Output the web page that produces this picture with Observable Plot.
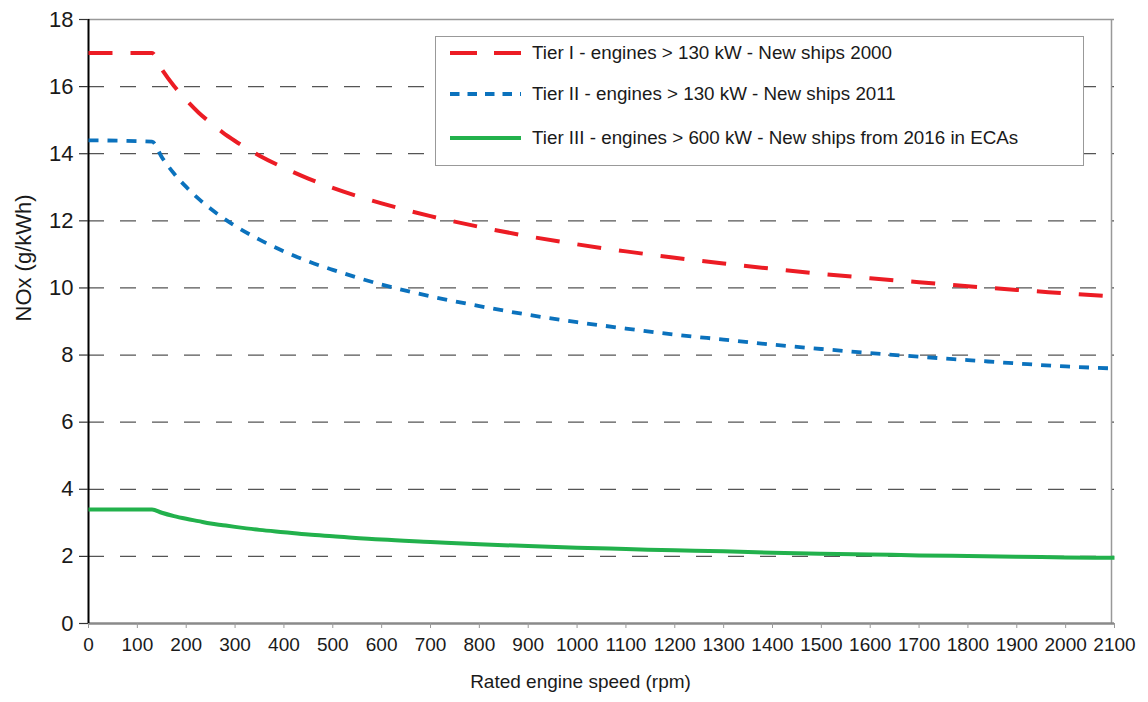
<!DOCTYPE html>
<html><head><meta charset="utf-8">
<script src="https://cdn.jsdelivr.net/npm/d3@7"></script>
<script src="https://cdn.jsdelivr.net/npm/@observablehq/plot@0.6"></script>
<style>
body{margin:0;background:#fff;font-family:"Liberation Sans",Arial,sans-serif;}
#wrap{position:relative;width:1148px;height:702px;}
#legend{position:absolute;left:435px;top:36px;width:649px;height:130px;border:1.5px solid #999;background:#fff;box-sizing:border-box;}
.row{position:absolute;left:14px;height:24px;display:flex;align-items:center;font-size:18.8px;color:#1a1a1a;white-space:nowrap;}
.row svg{margin-right:10px;}
</style></head>
<body><div id="wrap"></div>
<script>
const rpm   = [0,130,150,175,200,225,250,275,300,350,400,450,500,600,700,800,900,1000,1100,1200,1300,1400,1500,1600,1700,1800,1900,2000,2100];
const tier1 = [17.0,17.0,16.52,16.02,15.60,15.23,14.92,14.63,14.38,13.94,13.58,13.26,12.98,12.52,12.14,11.82,11.54,11.30,11.09,10.90,10.73,10.57,10.42,10.29,10.17,10.05,9.94,9.84,9.74];
const tier2 = [14.4,14.36,13.90,13.41,13.01,12.66,12.36,12.09,11.85,11.44,11.09,10.79,10.54,10.10,9.75,9.46,9.20,8.98,8.79,8.61,8.46,8.31,8.18,8.06,7.95,7.85,7.75,7.66,7.60];
const tier3 = [3.4,3.40,3.30,3.20,3.12,3.05,2.98,2.93,2.88,2.79,2.72,2.65,2.60,2.50,2.43,2.36,2.31,2.26,2.22,2.18,2.15,2.11,2.08,2.06,2.03,2.01,1.99,1.97,1.96];
const yTicks = [0,2,4,6,8,10,12,14,16,18];
const gridY = [2,4,6,8,10,12,14,16];
const xTicks = [0,100,200,300,400,500,600,700,800,900,1000,1100,1200,1300,1400,1500,1600,1700,1800,1900,2000,2100];
const seriesNames = ["Tier I - engines > 130 kW - New ships 2000","Tier II - engines > 130 kW - New ships 2011","Tier III - engines > 600 kW - New ships from 2016 in ECAs"];
const colors = ["#ec1c24","#0b72bd","#22b14c"];
const dashes = ["24,18","10,9",null];
const widths = [4,3.8,4];
const xLabel = "Rated engine speed (rpm)";
const yLabel = "NOx (g/kWh)";

const rows = (vals) => rpm.map((x,i)=>({x, y: vals[i]}));
const data = [tier1,tier2,tier3].map(rows);

const chart = Plot.plot({
  width: 1148, height: 702,
  marginLeft: 88, marginRight: 34, marginTop: 19, marginBottom: 79,
  style: {fontFamily: '"Liberation Sans", Arial, sans-serif', color: "#1a1a1a", background: "#fff"},
  x: {domain: [0,2100]},
  y: {domain: [0,18]},
  marks: [
    Plot.ruleY(gridY, {stroke: "#555", strokeWidth: 1.2, strokeDasharray: "16,16"}),
    Plot.ruleY([18], {stroke: "#999", strokeWidth: 1.5}),
    Plot.ruleX([2100], {dx: -3, stroke: "#999", strokeWidth: 1.5}),
    Plot.ruleY([0], {stroke: "#8a8a8a", strokeWidth: 2.5}),
    Plot.ruleX([0], {stroke: "#000", strokeWidth: 2}),
    Plot.axisY({ticks: yTicks, tickSize: 9, tickPadding: 6, fontSize: 22, label: null, stroke: "#333", strokeWidth: 1.2, tickFormat: d => String(d)}),
    Plot.axisX({ticks: xTicks, tickSize: 5, tickPadding: 9, fontSize: 19, label: null, stroke: "#999", tickFormat: d => String(d)}),
    ...data.map((d,i) => Plot.line(d, {x: "x", y: "y", stroke: colors[i], strokeWidth: widths[i], strokeDasharray: dashes[i], curve: "monotone-x", strokeLinecap: "butt"})),
    Plot.text([xLabel], {frameAnchor: "bottom", dy: 64, dx: -21, fontSize: 19, fill: "#1a1a1a"}),
    Plot.text([yLabel], {frameAnchor: "left", dx: -65, rotate: -90, fontSize: 22, fill: "#1a1a1a"})
  ]
});
const wrap = document.getElementById("wrap");
wrap.appendChild(chart);

const legend = document.createElement("div");
legend.id = "legend";
const rowTops = [4, 45, 89];
seriesNames.forEach((name,i) => {
  const r = document.createElement("div");
  r.className = "row";
  r.style.top = rowTops[i] + "px";
  const dash = i===0 ? "27,17" : (i===1 ? "9.5,8" : "none");
  r.innerHTML = `<svg width="72" height="10"><line x1="0" y1="5" x2="71" y2="5" stroke="${colors[i]}" stroke-width="${widths[i]}" stroke-dasharray="${dash}"/></svg><span></span>`;
  r.querySelector("span").textContent = name;
  legend.appendChild(r);
});
wrap.appendChild(legend);
</script>
</body></html>
